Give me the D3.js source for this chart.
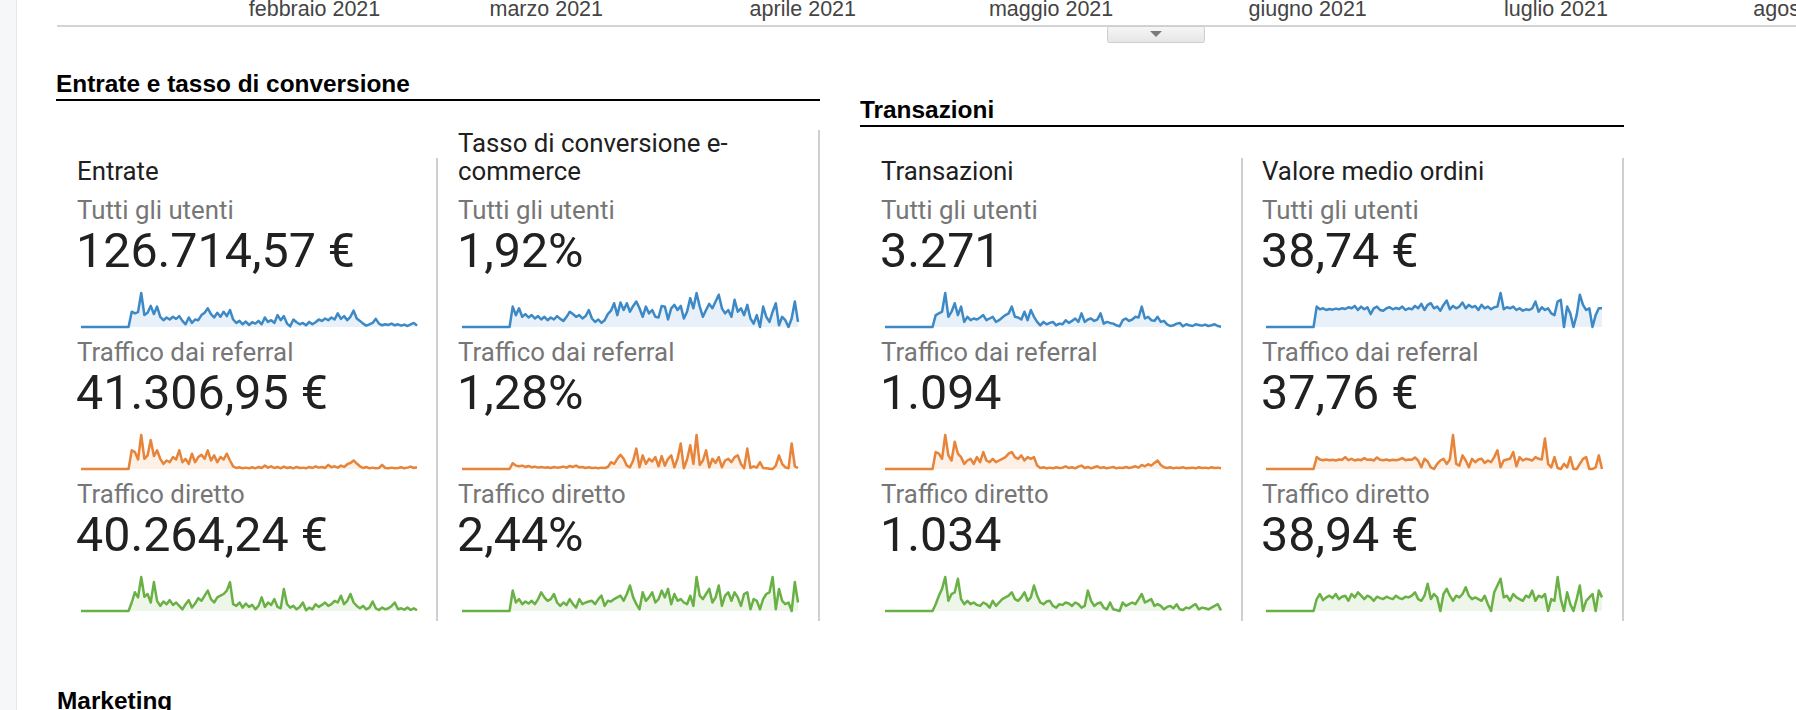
<!DOCTYPE html>
<html>
<head>
<meta charset="utf-8">
<script src="https://cdn.jsdelivr.net/npm/d3@7"></script>
<style>
  body { margin: 0; background: #fff; overflow: hidden; }
</style>
</head>
<body>
<div id="dashboard"></div>
<script>
/* DATA */

// month labels of the timeline above the cards
const monthStarts = ["2021-02-01", "2021-03-01", "2021-04-01", "2021-05-01", "2021-06-01", "2021-07-01", "2021-08-01"];
const monthLabels = ["febbraio 2021", "marzo 2021", "aprile 2021", "maggio 2021", "giugno 2021", "luglio 2021", "agosto 2021"];

const segments = ["Tutti gli utenti", "Traffico dai referral", "Traffico diretto"];
const metricTitles = [["Entrate"], ["Tasso di conversione e-", "commerce"], ["Transazioni"], ["Valore medio ordini"]];
const metricTotals = [
  ["126.714,57 €", "41.306,95 €", "40.264,24 €"],
  ["1,92%", "1,28%", "2,44%"],
  ["3.271", "1.094", "1.034"],
  ["38,74 €", "37,76 €", "38,94 €"]
];

// daily sparkline values (relative height)
const revenueAll = [0,0,0,0,0,0,0,0,0,0,0,0,0,0,0,0,
  45,40,44,100,35,42,62,38,60,30, 20,28,22,30,24,32,18,8,28,12, 22,20,35,42,55,38,28,42,30,45,
  32,50,22,12,18,8,16,6,14,10, 18,8,28,15,20,12,35,20,32,10, 2,22,14,8,12,5,15,8,14,22,
  18,25,20,28,22,40,24,32,20,30, 48,25,18,10,4,8,12,24,10,5, 8,6,10,5,8,4,7,3,8,12, 4];
const revenueReferral = [0,0,0,0,0,0,0,0,0,0,0,0,0,0,0,0,
  55,50,28,100,30,40,85,38,55,30, 15,25,20,35,28,55,20,30,15,45, 20,35,42,30,55,25,40,20,35,28,
  45,25,8,3,5,2,4,2,5,2, 6,3,10,4,8,3,6,2,7,3, 5,2,6,3,4,2,6,3,8,4,
  6,3,12,5,8,4,10,6,14,18, 25,16,8,3,6,2,4,2,3,12, 3,2,4,2,3,5,2,4,7,3, 5];
const revenueDirect = [0,0,0,0,0,0,0,0,0,0,0,0,0,0,0,0,
  25,55,40,100,42,50,25,85,30,15, 28,20,32,18,25,15,5,20,32,10, 22,38,30,45,60,35,25,40,45,50,
  60,85,20,15,25,10,22,12,18,5, 15,40,12,25,18,35,12,8,65,20, 10,15,5,12,25,2,10,5,20,12,
  18,25,15,20,30,25,45,20,30,50, 25,15,8,15,5,10,28,8,3,10, 5,8,15,25,5,8,4,10,3,8, 2];

const convAll = [0,0,0,0,0,0,0,0,0,0,0,0,0,0,0,0,
  60,35,55,30,38,28,35,25,32,22, 30,20,28,22,32,24,18,30,45,38, 30,35,25,32,50,25,15,22,12,20,
  38,48,70,35,72,50,70,45,62,75, 55,30,60,40,50,30,28,62,60,22, 55,65,50,62,25,45,85,55,100,60,
  30,50,68,55,75,95,55,40,50,30, 80,45,55,35,65,25,10,35,0,60, 30,15,45,70,5,30,20,0,25,75, 15];
const convReferral = [0,0,0,0,0,0,0,0,0,0,0,0,0,0,0,0,
  17,10,8,10,6,9,5,7,4,6, 4,5,3,6,4,5,7,4,9,6, 10,5,6,3,5,3,4,2,4,3,
  6,20,15,30,42,30,10,5,25,60, 5,40,15,30,22,35,8,38,10,30, 40,5,30,75,2,28,70,15,100,12,
  25,55,5,30,18,35,5,25,30,20, 35,40,15,2,60,3,8,4,20,3, 2,1,0,10,40,15,5,2,75,8, 3];
const convDirect = [0,0,0,0,0,0,0,0,0,0,0,0,0,0,0,0,
  60,25,35,20,28,22,30,20,35,55, 40,30,35,50,25,15,25,18,35,20, 10,35,20,25,28,30,20,35,45,15,
  30,28,35,40,45,30,50,75,40,20, 5,55,30,40,55,25,35,60,40,65, 20,50,30,35,25,20,45,15,100,45,
  35,50,65,25,40,75,15,45,55,30, 55,40,15,50,55,5,35,30,5,35, 50,55,100,5,65,30,20,25,0,85, 25];

const transAll = [0,0,0,0,0,0,0,0,0,0,0,0,0,0,0,0,
  35,40,45,100,30,45,70,35,60,15, 30,20,25,22,28,35,20,25,30,15, 20,28,35,40,60,30,28,22,45,20,
  50,30,15,5,15,8,12,15,5,10, 8,20,12,18,25,15,40,15,22,25, 18,22,40,10,15,12,10,5,2,20,
  25,18,22,30,28,60,25,30,20,18, 30,15,18,8,3,5,10,12,2,8, 5,3,8,6,4,7,3,5,8,3, 1];
const transReferral = [0,0,0,0,0,0,0,0,0,0,0,0,0,0,0,0,
  50,45,30,100,40,25,80,45,35,15, 25,30,15,35,20,50,25,20,30,20, 25,30,35,45,50,35,30,40,25,35,
  30,35,10,3,5,2,4,2,5,3, 4,8,3,5,2,7,10,3,6,2, 5,8,3,5,2,4,6,2,4,3,
  6,3,5,8,4,12,8,14,10,18, 25,12,5,3,5,2,4,3,5,2, 3,4,2,5,3,4,2,5,3,4, 2];
const transDirect = [0,0,0,0,0,0,0,0,0,0,0,0,0,0,0,0,
  20,45,65,100,30,50,55,95,35,20, 30,20,25,18,15,25,20,10,30,15, 25,35,40,45,55,35,30,40,55,30,
  40,75,45,25,20,28,30,15,10,20, 18,25,22,15,25,20,10,15,60,30, 15,22,25,10,5,25,5,3,0,25,
  15,20,25,20,35,50,25,30,35,15, 20,15,5,12,15,8,20,5,3,10, 8,15,20,5,10,8,5,10,15,20, 2];

const aovAll = [0,0,0,0,0,0,0,0,0,0,0,0,0,0,0,0,
  60,52,55,50,53,51,54,52,55,53, 58,55,62,50,60,52,58,38,55,60, 50,48,55,58,52,56,53,60,50,55,
  52,62,55,68,50,65,70,55,60,48, 65,78,52,62,55,60,72,55,65,58, 62,50,65,55,60,52,58,60,100,52,
  58,55,60,50,55,48,52,50,55,75, 45,58,50,55,40,35,75,80,0,60, 40,0,35,95,65,50,55,0,35,55, 55];
const aovReferral = [0,0,0,0,0,0,0,0,0,0,0,0,0,0,0,0,
  35,28,26,28,26,27,25,28,27,35, 26,30,25,28,26,32,27,28,25,34, 27,26,28,25,27,26,28,32,26,28,
  27,34,25,5,30,22,5,0,15,25, 30,15,28,100,15,10,40,25,5,30, 20,28,30,18,25,20,35,55,5,25,
  28,30,50,8,35,25,30,28,25,35, 30,28,90,15,5,35,3,0,15,5, 35,0,0,15,30,35,0,0,5,40, 0];
const aovDirect = [0,0,0,0,0,0,0,0,0,0,0,0,0,0,0,0,
  35,50,32,40,45,38,50,35,42,45, 30,50,40,55,45,35,45,40,30,42, 38,35,42,38,35,45,38,35,42,40,
  45,55,35,30,45,80,35,50,40,0, 50,65,45,30,45,40,50,70,45,35, 40,35,30,45,20,0,55,75,95,40,
  45,30,50,40,35,30,45,40,60,30, 45,40,50,0,35,30,100,35,0,55, 20,0,35,75,0,30,40,50,0,60, 40];

const metricSeries = [
  [revenueAll, revenueReferral, revenueDirect],
  [convAll, convReferral, convDirect],
  [transAll, transReferral, transDirect],
  [aovAll, aovReferral, aovDirect]
];

/* STYLE AND LAYOUT */

const lineColors = ["#3d89c6", "#e6843a", "#69b045"];
const fillColors = ["#e8f1f9", "#fdf0e6", "#eef6e9"];

const columnX = [77, 458, 881, 1262];
const borderX = [437, 819, 1242, 1623];
const rowStep = 142;
const sparkWidth = 336;
const sparkHeight = 34;
const labelSize = "25.8px";

const svg = d3.select("#dashboard").append("svg")
    .attr("width", 1796)
    .attr("height", 710);

// left grey strip of the page
svg.append("rect")
    .attr("x", 0).attr("y", 0)
    .attr("width", 16).attr("height", 710)
    .attr("fill", "#f6f7f9");
svg.append("line")
    .attr("x1", 16.5).attr("x2", 16.5)
    .attr("y1", 0).attr("y2", 710)
    .attr("stroke", "#e7e7e7");

// month axis (only the labels are visible, cut by the top of the frame)
const parseDay = d3.timeParse("%Y-%m-%d");
const timeScale = d3.scaleTime()
    .domain([parseDay("2021-02-01"), parseDay("2021-08-01")])
    .range([314, 1812]);

const monthAxis = d3.axisTop(timeScale)
    .tickValues(monthStarts.map(parseDay))
    .tickFormat((d, i) => monthLabels[i])
    .tickSize(0)
    .tickPadding(0);

const axisG = svg.append("g")
    .attr("transform", "translate(0,16)")
    .call(monthAxis);
axisG.select(".domain").remove();
axisG.selectAll("text")
    .attr("dy", 0)
    .style("font-family", "'Liberation Sans', Arial, sans-serif")
    .style("font-size", "21.5px")
    .style("fill", "#444");

svg.append("line")
    .attr("x1", 57).attr("x2", 1796)
    .attr("y1", 26).attr("y2", 26)
    .attr("stroke", "#d4d4d4")
    .attr("stroke-width", 2);

// small drop-down tab
const grad = svg.append("defs").append("linearGradient")
    .attr("id", "tabGrad").attr("x1", 0).attr("x2", 0).attr("y1", 0).attr("y2", 1);
grad.append("stop").attr("offset", "0%").attr("stop-color", "#f6f6f6");
grad.append("stop").attr("offset", "100%").attr("stop-color", "#e6e6e6");
svg.append("rect")
    .attr("x", 1107.5).attr("y", 26.5)
    .attr("width", 97).attr("height", 16)
    .attr("rx", 2)
    .attr("fill", "url(#tabGrad)")
    .attr("stroke", "#cdcdcd");
svg.append("path")
    .attr("d", "M1150,31 L1162,31 L1156,37 Z")
    .attr("fill", "#7a7a7a");

// section headers
const sections = [
  { label: "Entrate e tasso di conversione", x: 56, y: 92, x2: 820 },
  { label: "Transazioni", x: 860, y: 118, x2: 1624 }
];
const secG = svg.selectAll("g.section")
    .data(sections)
    .enter().append("g")
    .attr("class", "section");
secG.append("text")
    .attr("x", d => d.x)
    .attr("y", d => d.y)
    .text(d => d.label)
    .style("font-family", "'Liberation Sans', Arial, sans-serif")
    .style("font-weight", "bold")
    .style("font-size", "24.4px")
    .style("fill", "#000");
secG.append("line")
    .attr("x1", d => d.x).attr("x2", d => d.x2)
    .attr("y1", d => d.y + 8).attr("y2", d => d.y + 8)
    .attr("stroke", "#000")
    .attr("stroke-width", 2);

// "Marketing" header of the next section, cut by the frame
svg.append("text")
    .attr("x", 57).attr("y", 709)
    .text("Marketing")
    .style("font-family", "'Liberation Sans', Arial, sans-serif")
    .style("font-weight", "bold")
    .style("font-size", "24.4px")
    .style("fill", "#000");

// card borders
const cards = metricTitles.map((t, i) => ({
  title: t,
  totals: metricTotals[i],
  series: metricSeries[i],
  x: columnX[i],
  borderX: borderX[i],
  top: t.length > 1 ? 130 : 158
}));

svg.selectAll("line.border")
    .data(cards)
    .enter().append("line")
    .attr("class", "border")
    .attr("x1", d => d.borderX).attr("x2", d => d.borderX)
    .attr("y1", d => d.top).attr("y2", 621)
    .attr("stroke", "#cfcfcf")
    .attr("stroke-width", 2);

const cardG = svg.selectAll("g.card")
    .data(cards)
    .enter().append("g")
    .attr("class", "card")
    .attr("transform", d => `translate(${d.x},0)`);

// card titles (last line sits on the same baseline)
cardG.selectAll("text.title")
    .data(d => d.title.map((line, k) => ({ line, k, n: d.title.length })))
    .enter().append("text")
    .attr("class", "title")
    .attr("x", 0)
    .attr("y", d => 180 - (d.n - 1 - d.k) * 28)
    .text(d => d.line)
    .style("font-family", "Roboto, sans-serif")
    .style("font-size", labelSize)
    .style("fill", "#202020");

// one block per segment
const segG = cardG.selectAll("g.segment")
    .data(d => d.series.map((values, r) => ({ values, r, total: d.totals[r] })))
    .enter().append("g")
    .attr("class", "segment")
    .attr("transform", d => `translate(0,${d.r * rowStep})`);

segG.append("text")
    .attr("x", 0).attr("y", 219)
    .text(d => segments[d.r])
    .style("font-family", "Roboto, sans-serif")
    .style("font-size", labelSize)
    .style("fill", "#767676");

segG.append("text")
    .attr("x", -1).attr("y", 267)
    .text(d => d.total)
    .style("font-family", "Roboto, sans-serif")
    .style("font-size", "48.4px")
    .style("fill", "#212121");

// sparklines
segG.each(function (d) {
  const g = d3.select(this).append("g")
      .attr("transform", "translate(4,327)");
  const x = d3.scaleLinear()
      .domain([0, d.values.length - 1])
      .range([0, sparkWidth]);
  const y = d3.scaleLinear()
      .domain([0, d3.max(d.values)])
      .range([0, -sparkHeight]);

  const area = d3.area()
      .x((v, i) => x(i))
      .y0(0)
      .y1(v => y(v));
  const line = d3.line()
      .x((v, i) => x(i))
      .y(v => y(v));

  g.append("path")
      .datum(d.values)
      .attr("d", area)
      .attr("fill", fillColors[d.r]);
  g.append("path")
      .datum(d.values)
      .attr("d", line)
      .attr("fill", "none")
      .attr("stroke", lineColors[d.r])
      .attr("stroke-width", 2.5)
      .attr("stroke-linejoin", "round");
});
</script>
</body>
</html>
